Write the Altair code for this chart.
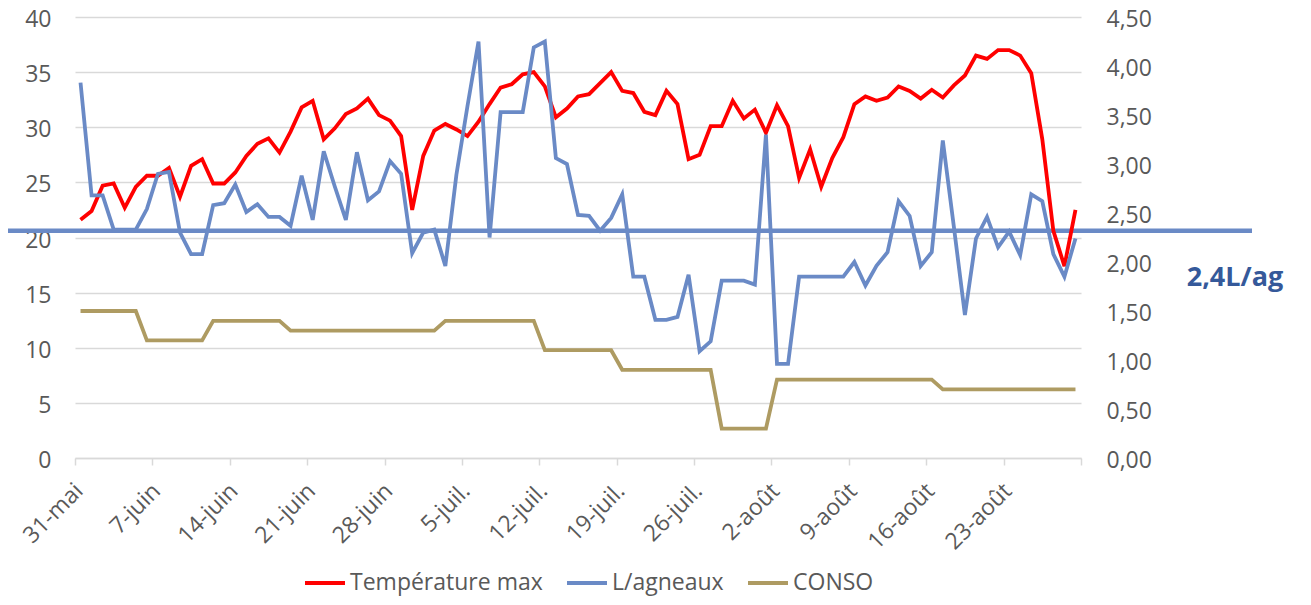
import json
import altair as alt
import pandas as pd

# ---- data ----
SERIES = ["Température max", "L/agneaux", "CONSO"]
COLORS = ["#FF0000", "#6A8AC6", "#AE9B62"]

TICK_LABELS = ["31-mai", "7-juin", "14-juin", "21-juin", "28-juin", "5-juil.",
               "12-juil.", "19-juil.", "26-juil.", "2-août", "9-août",
               "16-août", "23-août"]

TEMP = [21.6, 22.4, 24.7, 24.9, 22.7, 24.6, 25.6, 25.6, 26.3, 23.7,
        26.5, 27.1, 24.9, 24.9, 25.9, 27.4, 28.5, 29.0, 27.7, 29.6,
        31.8, 32.4, 28.9, 29.9, 31.2, 31.7, 32.6, 31.1, 30.6, 29.2,
        22.5, 27.4, 29.7, 30.3, 29.8, 29.2, 30.5, 32.1, 33.6, 33.9,
        34.8, 35.0, 33.7, 30.9, 31.7, 32.8, 33.0, 34.0, 35.0, 33.3,
        33.1, 31.4, 31.1, 33.3, 32.1, 27.1, 27.5, 30.1, 30.1, 32.4,
        30.8, 31.6, 29.5, 32.0, 30.1, 25.4, 28.0, 24.6, 27.2, 29.1,
        32.1, 32.8, 32.4, 32.7, 33.7, 33.3, 32.6, 33.4, 32.7, 33.8,
        34.7, 36.5, 36.2, 37.0, 37.0, 36.5, 34.9, 28.9, 20.6, 17.4, 22.5]

L_AG = [3.83, 2.68, 2.68, 2.33, 2.33, 2.33, 2.54, 2.90, 2.92, 2.30,
        2.08, 2.08, 2.58, 2.60, 2.79, 2.51, 2.59, 2.46, 2.46, 2.37,
        2.88, 2.43, 3.13, 2.77, 2.43, 3.12, 2.63, 2.72, 3.03, 2.90,
        2.09, 2.30, 2.33, 1.96, 2.89, 3.59, 4.25, 2.25, 3.53, 3.53,
        3.53, 4.19, 4.25, 3.06, 3.00, 2.48, 2.47, 2.32, 2.45, 2.69,
        1.85, 1.85, 1.41, 1.41, 1.44, 1.87, 1.09, 1.19, 1.81, 1.81,
        1.81, 1.77, 3.30, 0.96, 0.96, 1.85, 1.85, 1.85, 1.85, 1.85,
        2.00, 1.76, 1.96, 2.10, 2.62, 2.47, 1.96, 2.10, 3.24, 2.36,
        1.46, 2.24, 2.46, 2.15, 2.31, 2.07, 2.69, 2.62, 2.08, 1.85, 2.24]

CONSO = [1.5, 1.5, 1.5, 1.5, 1.5, 1.5,
         1.2, 1.2, 1.2, 1.2, 1.2, 1.2,
         1.4, 1.4, 1.4, 1.4, 1.4, 1.4, 1.4,
         1.3, 1.3, 1.3, 1.3, 1.3, 1.3, 1.3, 1.3, 1.3, 1.3, 1.3, 1.3, 1.3, 1.3,
         1.4, 1.4, 1.4, 1.4, 1.4, 1.4, 1.4, 1.4, 1.4,
         1.1, 1.1, 1.1, 1.1, 1.1, 1.1, 1.1,
         0.9, 0.9, 0.9, 0.9, 0.9, 0.9, 0.9, 0.9, 0.9,
         0.3, 0.3, 0.3, 0.3, 0.3,
         0.8, 0.8, 0.8, 0.8, 0.8, 0.8, 0.8, 0.8, 0.8, 0.8, 0.8, 0.8, 0.8, 0.8, 0.8,
         0.7, 0.7, 0.7, 0.7, 0.7, 0.7, 0.7, 0.7, 0.7, 0.7, 0.7, 0.7, 0.7]

TARGET = [2.32]
TARGET_LABEL = ["2,4L/ag"]

FONT = "Open Sans"
GREY = "#595959"
N_DAYS = len(TEMP)

# ---- tables ----
temp_df = pd.DataFrame({"day": [i + 0.5 for i in range(N_DAYS)],
                        "value": TEMP, "series": SERIES[0]})
right_df = pd.concat([
    pd.DataFrame({"day": [i + 0.5 for i in range(N_DAYS)], "value": L_AG, "series": SERIES[1]}),
    pd.DataFrame({"day": [i + 0.5 for i in range(N_DAYS)], "value": CONSO, "series": SERIES[2]}),
])
target_df = pd.DataFrame({"value": TARGET, "label": TARGET_LABEL})

label_expr = json.dumps(TICK_LABELS, ensure_ascii=False) + "[round(datum.value/7)] || ''"

x_enc = alt.X("day:Q",
              scale=alt.Scale(domain=[0, N_DAYS], nice=False, zero=False),
              axis=alt.Axis(values=list(range(0, N_DAYS + 1, 7)), labelExpr=label_expr,
                            labelAngle=-45, labelAlign="right", labelBaseline="middle",
                            labelFontSize=23, labelFont=FONT, labelColor=GREY,
                            labelPadding=22, labelOffset=4, labelOverlap=False,
                            domainColor="#D9D9D9", domainWidth=1.5,
                            tickColor="#D9D9D9", tickWidth=1.5, tickSize=7,
                            grid=False, title=None))

color_enc = alt.Color("series:N",
                      scale=alt.Scale(domain=SERIES, range=COLORS),
                      legend=alt.Legend(orient="none", direction="horizontal",
                                        legendX=228, legendY=544, title=None,
                                        symbolType="stroke", symbolSize=1600,
                                        symbolStrokeWidth=4, labelFontSize=23,
                                        labelFont=FONT, labelColor=GREY, labelLimit=0,
                                        labelOffset=3, columnPadding=16, padding=0))

right_scale = alt.Scale(domain=[0, 4.5], nice=False, zero=True)

rule = alt.Chart(target_df).mark_rule(color=COLORS[1], strokeWidth=4.5).encode(
    x=alt.value(-67), x2=alt.value(1177),
    y=alt.Y("value:Q", scale=right_scale, axis=None),
)

red = alt.Chart(temp_df).mark_line(strokeWidth=3.8).encode(
    x=x_enc,
    y=alt.Y("value:Q", scale=alt.Scale(domain=[0, 40], nice=False),
            axis=alt.Axis(orient="left", values=list(range(0, 41, 5)), grid=True,
                          gridColor="#D9D9D9", gridWidth=1.5, domain=False, ticks=False,
                          labelFontSize=23, labelFont=FONT, labelColor=GREY,
                          labelPadding=24, labelOffset=2.5, title=None)),
    color=color_enc,
)

right_lines = alt.Chart(right_df).mark_line(strokeWidth=3.8).encode(
    x=x_enc,
    y=alt.Y("value:Q", scale=right_scale,
            axis=alt.Axis(orient="right", values=[i * 0.5 for i in range(10)],
                          labelExpr="replace(format(datum.value, '.2f'), '.', ',')",
                          grid=False, domain=False, ticks=False,
                          labelFontSize=23, labelFont=FONT, labelColor=GREY,
                          labelPadding=25, labelOffset=2.5, title=None)),
    color=color_enc,
    detail="series:N",
)

text = alt.Chart(target_df).mark_text(font=FONT, fontSize=27, fontWeight="bold",
                                      color="#35599A", align="center",
                                      baseline="alphabetic").encode(
    x=alt.value(1160), y=alt.value(269), text="label:N")

chart = alt.layer(rule, red, right_lines, text).resolve_scale(
    y="independent"
).properties(
    width=1006, height=441,
    autosize=alt.AutoSizeParams(type="none"),
    padding={"left": 67, "top": 9, "right": 222, "bottom": 139},
).configure_view(strokeWidth=0)

chart.save("out.html", embed_options={"renderer": "svg", "actions": False})
